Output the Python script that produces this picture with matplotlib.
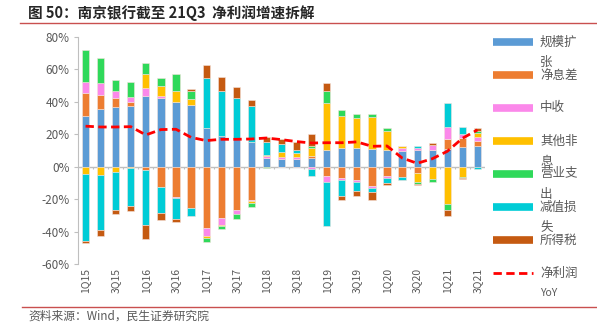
import numpy as np
import matplotlib
matplotlib.use('Agg')
import matplotlib.pyplot as plt
from matplotlib.lines import Line2D

plt.rcParams['font.family'] = ['Noto Sans CJK SC', 'DejaVu Sans']

# quarters and contribution of each driver to net profit growth (pct points)
quarters = ['1Q15', '2Q15', '3Q15', '4Q15', '1Q16', '2Q16', '3Q16', '4Q16',
            '1Q17', '2Q17', '3Q17', '4Q17', '1Q18', '2Q18', '3Q18', '4Q18',
            '1Q19', '2Q19', '3Q19', '4Q19', '1Q20', '2Q20', '3Q20', '4Q20',
            '1Q21', '2Q21', '3Q21']

scale = [31.1, 35.3, 36.9, 37.7, 43.9, 42.3, 39.8, 37.9, 23.9, 19.0, 17.1, 15.1,
         5.2, 4.5, 4.9, 5.6, 10.5, 11.8, 11.3, 10.7, 10.5, 9.7, 10.1, 10.5,
         10.9, 12.0, 12.6]
nim = [14.2, 8.9, 5.2, 2.3, -2.3, -12.8, -18.4, -25.6, -37.9, -31.5, -26.6, -20.6,
       0.0, 0.0, 0.0, 1.2, -5.8, -6.8, -8.0, -11.8, -5.8, -6.2, -3.7, 0.0,
       6.2, 5.8, 3.5]
fee = [6.8, 7.6, 4.9, 3.3, 4.5, 1.4, -1.2, 0.0, -4.9, -4.3, -2.5, -0.5,
       1.2, 1.4, 1.2, -1.2, -3.9, -1.6, -1.2, -1.2, -1.4, 1.9, 1.2, 2.9,
       7.2, 2.5, 2.1]
other = [-4.5, -5.2, -3.1, -0.5, 8.9, 6.2, 6.6, 3.9, -1.4, -0.6, -0.3, -1.2,
         1.0, 3.3, 2.5, 4.7, 28.5, 19.6, 19.0, 20.2, 11.8, 1.0, -5.6, -7.4,
         -23.3, -6.2, 2.5]
opex = [20.0, 15.5, 6.6, 9.1, 6.8, 4.9, 10.7, 4.9, -2.3, -2.1, -3.1, -2.5,
        -0.5, -0.3, -0.3, 1.0, 7.8, 3.7, 2.5, 1.9, 1.6, 0.0, -1.4, -1.9,
        -3.5, -0.8, 1.6]
impair = [-41.2, -34.0, -23.3, -24.0, -33.4, -15.5, -12.6, -4.5, 31.1, 27.6, 25.4, 22.3,
          7.8, 4.7, 1.9, -4.7, -27.0, -9.9, -5.8, -2.9, -2.9, -1.9, 1.4, 0.0,
          15.3, 4.5, -1.6]
tax = [-1.4, -3.3, -2.7, -2.7, -9.1, -4.3, -2.1, 1.2, 7.6, 8.7, 6.4, 3.7,
       2.9, 3.5, 4.9, 7.8, 4.7, -2.1, -2.9, -4.7, -1.0, 0.4, -0.6, 1.0,
       -3.5, -0.8, 1.6]
net_yoy = [25.0, 24.5, 24.5, 24.7, 19.6, 22.9, 23.1, 18.1, 16.1, 16.9, 16.9, 17.1,
           17.7, 16.7, 15.5, 14.6, 14.8, 14.8, 15.3, 12.6, 12.8, 5.4, 2.1, 4.9,
           9.5, 17.5, 22.7]

series = [('规模扩张', scale, '#5B9BD5'),
          ('净息差', nim, '#ED7D31'),
          ('中收', fee, '#FB88EA'),
          ('其他非息', other, '#FFC000'),
          ('营业支出', opex, '#2FD95A'),
          ('减值损失', impair, '#00CCD6'),
          ('所得税', tax, '#C55A11')]

W, H = 597, 323
fig = plt.figure(figsize=(W / 100, H / 100), dpi=100)
ax = fig.add_axes([78 / W, 59 / H, 407 / W, 227 / H])

x = np.arange(len(quarters))
pos = np.zeros(len(x))
neg = np.zeros(len(x))
for name, vals, col in series:
    v = np.array(vals)
    b = np.where(v >= 0, pos, neg)
    ax.bar(x, v, bottom=b, width=0.48, color=col, edgecolor='#f3e3dc', linewidth=0.4, zorder=2)
    pos = pos + np.where(v >= 0, v, 0)
    neg = neg + np.where(v < 0, v, 0)

ax.plot(x, net_yoy, color='#FF0000', lw=2.0, ls=(0, (3, 1.6)), zorder=3)

ax.set_xlim(-0.5, len(x) - 0.5)
ax.set_ylim(-60, 80)
ax.set_yticks(np.arange(-60, 81, 20))
ax.set_yticklabels([f'{t}%' for t in range(-60, 81, 20)])
ax.set_xticks(x[::2])
ax.set_xticklabels(quarters[::2], rotation=90)
ax.tick_params(axis='x', length=0, pad=3, labelsize=7.5, labelcolor='#595959')
ax.tick_params(axis='y', length=3, color='#BFBFBF', labelsize=8.5, labelcolor='#595959', pad=3)

for s in ['top', 'right', 'bottom']:
    ax.spines[s].set_visible(False)
ax.spines['left'].set_color('#BFBFBF')

# zero line with category boundary ticks
ax.axhline(0, color='#BFBFBF', lw=1, zorder=1)
ax.vlines(np.arange(0.5, len(x) - 0.5, 1), -1.6, 0, color='#BFBFBF', lw=0.8, zorder=1)

# title, source and rules
fig.text(28 / W, 1 - 13 / H, '图 50：南京银行截至 21Q3  净利润增速拆解',
         fontsize=10.5, fontweight='bold', color='#262626', va='center')
fig.add_artist(Line2D([20 / W, 1], [1 - 22.5 / H] * 2, color='#C9504F', lw=1))
fig.add_artist(Line2D([22 / W, 1], [1 - 307 / H] * 2, color='#C9504F', lw=1))
fig.text(28 / W, 1 - 316 / H, '资料来源：Wind，民生证券研究院',
         fontsize=8.5, color='#595959', va='center')

# legend on the right, with wrapped labels
leg_labels = [('规模扩', '张'), ('净息差', None), ('中收', None), ('其他非', '息'),
              ('营业支', '出'), ('减值损', '失'), ('所得税', None)]
for i, ((l1, l2), (_, _, col)) in enumerate(zip(leg_labels, series)):
    yp = 42 + 33 * i
    fig.add_artist(Line2D([493 / W, 533 / W], [1 - yp / H] * 2, color=col, lw=5.5,
                          solid_capstyle='butt'))
    fig.text(540 / W, 1 - yp / H, l1, fontsize=9, color='#595959', va='center')
    if l2:
        fig.text(540 / W, 1 - (yp + 20) / H, l2, fontsize=9, color='#595959', va='center')
yp = 42 + 33 * 7
fig.add_artist(Line2D([493 / W, 533 / W], [1 - yp / H] * 2, color='#FF0000', lw=2,
                      ls=(0, (3, 1.6))))
fig.text(540 / W, 1 - yp / H, '净利润', fontsize=9, color='#595959', va='center')
fig.text(540 / W, 1 - (yp + 20) / H, 'YoY', fontsize=7.5, color='#595959', va='center')

fig.savefig('out.png', dpi=100)
